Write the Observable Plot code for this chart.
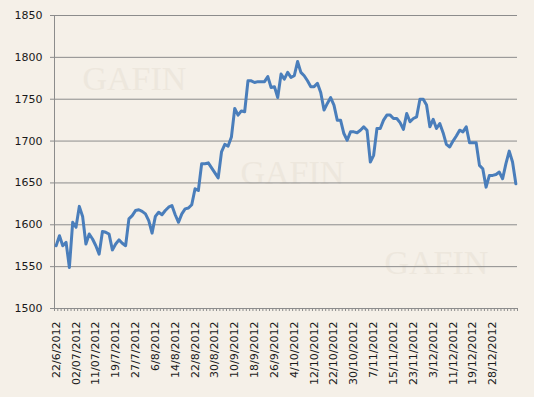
<!DOCTYPE html>
<html>
<head>
<meta charset="utf-8">
<script src="https://cdn.jsdelivr.net/npm/d3@7"></script>
<script src="https://cdn.jsdelivr.net/npm/@observablehq/plot@0.6"></script>
<style>
  html, body { margin: 0; padding: 0; background: #f5f0e8; }
  #chart svg { display: block; }
</style>
</head>
<body>
<div id="chart"></div>
<script>
const tickLabels = ["22/6/2012","02/07/2012","11/07/2012","19/7/2012","27/7/2012","6/8/2012","14/8/2012","22/8/2012","30/8/2012","10/9/2012","18/9/2012","26/9/2012","4/10/2012","12/10/2012","22/10/2012","30/10/2012","7/11/2012","15/11/2012","23/11/2012","3/12/2012","11/12/2012","19/12/2012","28/12/2012"];

const prices = [
  1575,1587,1575,1579,1549,1603,1597,1622,1610,1577,
  1589,1583,1575,1565,1592,1591,1589,1570,1577,1582,
  1578,1575,1607,1611,1617,1618,1616,1613,1605,1590,
  1610,1615,1612,1617,1621,1623,1612,1603,1613,1619,
  1620,1624,1643,1641,1673,1673,1674,1668,1662,1656,
  1687,1696,1694,1705,1739,1731,1736,1735,1772,1772,
  1770,1771,1771,1771,1777,1764,1765,1752,1780,1774,
  1782,1776,1778,1795,1782,1778,1772,1765,1765,1769,
  1758,1737,1745,1752,1743,1725,1725,1709,1701,1711,
  1711,1710,1713,1717,1713,1675,1683,1715,1715,1725,
  1731,1731,1727,1727,1722,1714,1733,1723,1727,1729,
  1750,1750,1743,1717,1726,1715,1721,1710,1696,1693,
  1700,1706,1713,1711,1717,1698,1698,1698,1671,1667,
  1645,1659,1659,1660,1663,1655,1673,1688,1675,1649
];

const yTicks = [1500,1550,1600,1650,1700,1750,1800,1850];
const labelEvery = 6;

const n = prices.length;
const boundaries = d3.range(n + 1);
const labelPos = tickLabels.map((_, k) => k * labelEvery + 0.5);

const gridColor = "#8c8c8c";
const textColor = "#1a1a1a";
const markColor = "#ede7dd";

const chart = Plot.plot({
  width: 534,
  height: 397,
  marginLeft: 54,
  marginRight: 17,
  marginTop: 15,
  marginBottom: 89,
  style: {background: "#f5f0e8", fontFamily: "DejaVu Sans, Verdana, sans-serif", fontSize: "11px", color: textColor},
  x: {domain: [0, n], axis: null},
  y: {domain: [1500, 1850], axis: null},
  marks: [
    Plot.text(["GAFIN"], {frameAnchor: "top-left", dx: 28, dy: 50, fontFamily: "Liberation Serif", fontSize: 34, fill: markColor, textAnchor: "start"}),
    Plot.text(["GAFIN"], {frameAnchor: "top-left", dx: 186, dy: 144, fontFamily: "Liberation Serif", fontSize: 34, fill: markColor, textAnchor: "start"}),
    Plot.text(["GAFIN"], {frameAnchor: "top-left", dx: 330, dy: 234, fontFamily: "Liberation Serif", fontSize: 34, fill: markColor, textAnchor: "start"}),
    Plot.gridY(yTicks, {stroke: gridColor, strokeOpacity: 1}),
    Plot.ruleX([0], {stroke: gridColor}),
    Plot.axisY(yTicks, {tickSize: 4, tickPadding: 8, stroke: gridColor, fill: textColor, tickFormat: d => String(d)}),
    Plot.axisX(boundaries, {tickSize: 3, tickFormat: () => "", stroke: gridColor}),
    Plot.axisX(labelPos, {tickSize: 0, tickPadding: 13, tickRotate: -90, fill: textColor,
      tickFormat: d => tickLabels[Math.round((d - 0.5) / labelEvery)]}),
    Plot.line(prices, {x: (d, i) => i + 0.5, y: d => d, stroke: "#4a7ebb", strokeWidth: 3, strokeLinejoin: "round"})
  ]
});

document.getElementById("chart").appendChild(chart);
</script>
</body>
</html>
